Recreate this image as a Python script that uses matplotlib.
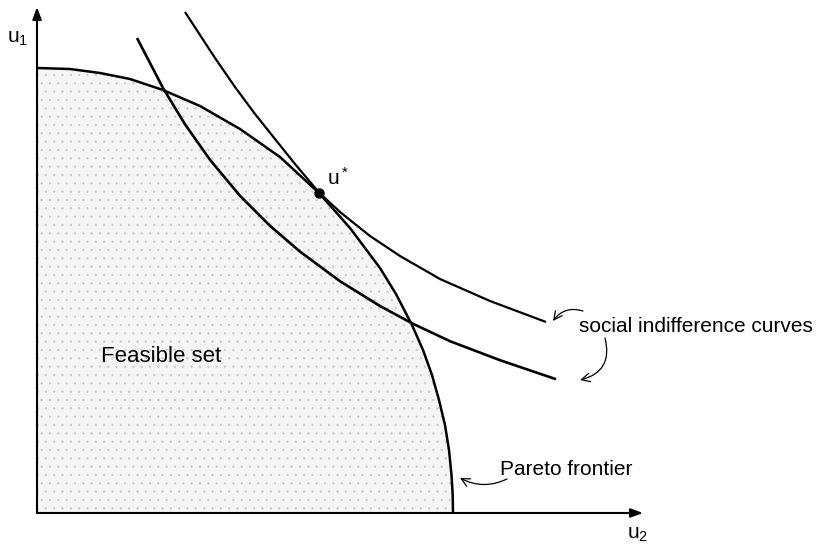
import matplotlib
matplotlib.use("Agg")
import matplotlib.pyplot as plt

plt.rcParams['font.family'] = ['Liberation Sans', 'DejaVu Sans']
plt.rcParams['mathtext.fontset'] = 'custom'
plt.rcParams['mathtext.rm'] = 'Liberation Sans'
plt.rcParams['mathtext.it'] = 'Liberation Sans'
plt.rcParams['hatch.linewidth'] = 0.5

# ---- data (units: u2 horizontal, u1 vertical) ----
frontier_u2 = [0.00, 0.33, 0.63, 0.93, 1.26, 1.63, 2.03, 2.43, 2.82, 3.13, 3.43,
               3.59, 3.75, 3.86, 3.95, 4.02, 4.08, 4.12, 4.145, 4.157, 4.16]
frontier_u1 = [4.45, 4.44, 4.40, 4.34, 4.23, 4.07, 3.84, 3.56, 3.20, 2.85, 2.45,
               2.19, 1.88, 1.63, 1.38, 1.13, 0.88, 0.63, 0.38, 0.18, 0.00]

outer_u2 = [1.48, 1.63, 1.78, 1.98, 2.18, 2.38, 2.58, 2.82, 3.03, 3.33, 3.63, 4.03, 4.53, 5.09]
outer_u1 = [5.01, 4.78, 4.55, 4.26, 3.99, 3.74, 3.49, 3.205, 3.01, 2.77, 2.57, 2.34, 2.12, 1.91]

inner_u2 = [1.00, 1.13, 1.26, 1.48, 1.73, 2.03, 2.33, 2.63, 3.03, 3.43, 3.75, 4.13, 4.63, 5.19]
inner_u1 = [4.75, 4.50, 4.25, 3.887, 3.532, 3.172, 2.872, 2.614, 2.318, 2.07, 1.897, 1.718, 1.528, 1.338]

optimum_u2 = [2.82]
optimum_u1 = [3.20]

u2_axis_max = 6.06
u1_axis_max = 5.06

# ---- figure ----
fig = plt.figure(figsize=(8.22, 5.44), dpi=100)
ax = fig.add_axes([0, 0, 1, 1])
ax.set_xlim(-0.37, 7.85)
ax.set_ylim(-0.31, 5.13)
ax.axis('off')

# feasible set (light stipple)
ax.fill_between(frontier_u2, frontier_u1, 0, facecolor='#f5f5f5',
                edgecolor='#cdcdcd', hatch='..', linewidth=0, zorder=1)

# axes with arrows
axis_arrow = dict(arrowstyle='-|>,head_length=0.6,head_width=0.22', lw=1.5,
                  color='black', mutation_scale=12, shrinkA=0, shrinkB=0)
ax.annotate('', xy=(u2_axis_max, 0), xytext=(0, 0), arrowprops=axis_arrow, zorder=5)
ax.annotate('', xy=(0, u1_axis_max), xytext=(0, 0), arrowprops=axis_arrow, zorder=5)

# curves
ax.plot(frontier_u2, frontier_u1, color='black', lw=1.8, solid_capstyle='butt',
        solid_joinstyle='round', zorder=3)
ax.plot(outer_u2, outer_u1, color='black', lw=1.6, solid_capstyle='butt',
        solid_joinstyle='round', zorder=3)
ax.plot(inner_u2, inner_u1, color='black', lw=1.9, solid_capstyle='butt',
        solid_joinstyle='round', zorder=3)
ax.plot(optimum_u2, optimum_u1, 'o', color='black', ms=6.5, zorder=4)

# labels
ax.text(-0.30, 4.70, r'$\mathregular{u_1}$', fontsize=15, va='baseline', ha='left')
ax.text(5.90, -0.26, r'$\mathregular{u_2}$', fontsize=15, va='baseline', ha='left')
ax.text(2.90, 3.28, r'$\mathregular{u^*}$', fontsize=15, va='baseline', ha='left')
ax.text(0.64, 1.51, 'Feasible set', fontsize=16, va='baseline', ha='left')
ax.text(5.42, 1.81, 'social indifference curves', fontsize=15, va='baseline', ha='left')
ax.text(4.63, 0.38, 'Pareto frontier', fontsize=15, va='baseline', ha='left')

# curly pointer arrows
thin = dict(arrowstyle='->,head_length=0.5,head_width=0.25', lw=0.9, color='black',
            mutation_scale=12, shrinkA=0, shrinkB=0)
ax.annotate('', xy=(5.16, 1.92), xytext=(5.46, 2.02),
            arrowprops=dict(thin, connectionstyle='arc3,rad=0.35'))
ax.annotate('', xy=(5.43, 1.33), xytext=(5.68, 1.75),
            arrowprops=dict(thin, connectionstyle='arc3,rad=-0.5'))
ax.annotate('', xy=(4.23, 0.35), xytext=(4.70, 0.34),
            arrowprops=dict(thin, connectionstyle='arc3,rad=-0.25'))

fig.savefig('out.png', dpi=100)
